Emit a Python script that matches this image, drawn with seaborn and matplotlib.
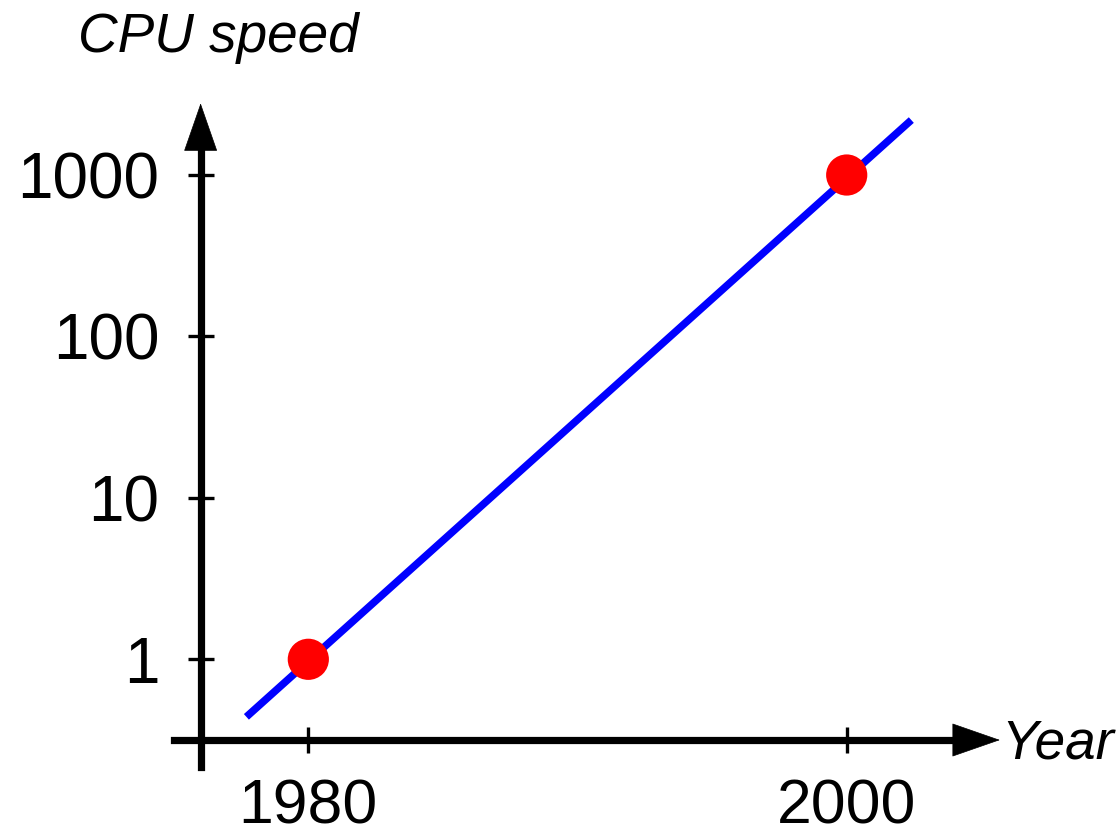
import matplotlib
matplotlib.use("Agg")
import matplotlib.pyplot as plt
from matplotlib.ticker import NullLocator, FixedLocator, FixedFormatter
import seaborn as sns
import pandas as pd

# ---- data ----
line_years = [1977.7, 2002.4]          # blue trend line end points
line_speed = [0.44, 2190]
point_years = [1980, 2000]             # red dots
point_speed = [1, 1000]
y_ticks = [1, 10, 100, 1000]
y_tick_labels = ["1", "10", "100", "1000"]
x_ticks = [1980, 2000]
x_tick_labels = ["1980", "2000"]

sns.set_style("white")
plt.rcParams["font.family"] = ["Liberation Sans", "DejaVu Sans"]

fig = plt.figure(figsize=(11.2, 8.38), dpi=100)
ax = fig.add_axes([0, 0, 1, 1])
ax.set_facecolor("white")
ax.set_yscale("log")
ax.set_xlim(1968.547, 2010.152)
ax.set_ylim(10 ** -1.1070, 10 ** 4.0842)

line_df = pd.DataFrame({"year": line_years, "speed": line_speed})
pts_df = pd.DataFrame({"year": point_years, "speed": point_speed})

sns.lineplot(data=line_df, x="year", y="speed", ax=ax, color="#0000FF",
             linewidth=5.4, solid_capstyle="butt", zorder=3)
sns.scatterplot(data=pts_df, x="year", y="speed", ax=ax, color="#FF0000",
                s=880, edgecolor="none", linewidth=0, zorder=4)

# axes (spines) crossing at year 1976 / speed 10^-0.5
ax.spines["top"].set_visible(False)
ax.spines["right"].set_visible(False)
y_axis_at = 1976.0
x_axis_at = 10 ** -0.5
for side in ("left", "bottom"):
    ax.spines[side].set_linewidth(5.2)
    ax.spines[side].set_color("black")
ax.spines["left"].set_position(("data", y_axis_at))
ax.spines["bottom"].set_position(("data", x_axis_at))
ax.spines["left"].set_bounds(10 ** -0.667, 10 ** 3.2)
ax.spines["bottom"].set_bounds(1975.0, 2004.5)

# arrow heads
arrow_kw = dict(arrowstyle="-|>,head_length=1.0,head_width=0.348",
                mutation_scale=33.1, lw=0.5, color="black",
                shrinkA=0, shrinkB=0)
ax.annotate("", xy=(y_axis_at, 10 ** 3.444), xytext=(y_axis_at, 10 ** 2.9),
            arrowprops=arrow_kw, annotation_clip=False)
ax.annotate("", xy=(2005.69, x_axis_at), xytext=(2002.0, x_axis_at),
            arrowprops=arrow_kw, annotation_clip=False)

# ticks
ax.yaxis.set_major_locator(FixedLocator(y_ticks))
ax.yaxis.set_major_formatter(FixedFormatter(y_tick_labels))
ax.yaxis.set_minor_locator(NullLocator())
ax.xaxis.set_major_locator(FixedLocator(x_ticks))
ax.xaxis.set_major_formatter(FixedFormatter(x_tick_labels))
ax.xaxis.set_minor_locator(NullLocator())
ax.tick_params(axis="both", which="major", direction="inout", length=19.4,
               width=2.4, color="black", labelcolor="black",
               left=True, bottom=True)
ax.tick_params(axis="y", pad=20, labelsize=46)
ax.tick_params(axis="x", pad=17.5, labelsize=45)

# axis titles
ax.set_ylabel("CPU speed", rotation=0, fontsize=39.5, fontstyle="italic",
              ha="center", va="baseline", color="black")
ax.yaxis.set_label_coords(218 / 1120, 1 - 52 / 838)
ax.set_xlabel("Year", fontsize=39.5, fontstyle="italic",
              ha="left", va="baseline", color="black")
ax.xaxis.set_label_coords(1001 / 1120, 1 - 758 / 838)

ax.grid(False)
fig.savefig("out.png", dpi=100, facecolor="white")
